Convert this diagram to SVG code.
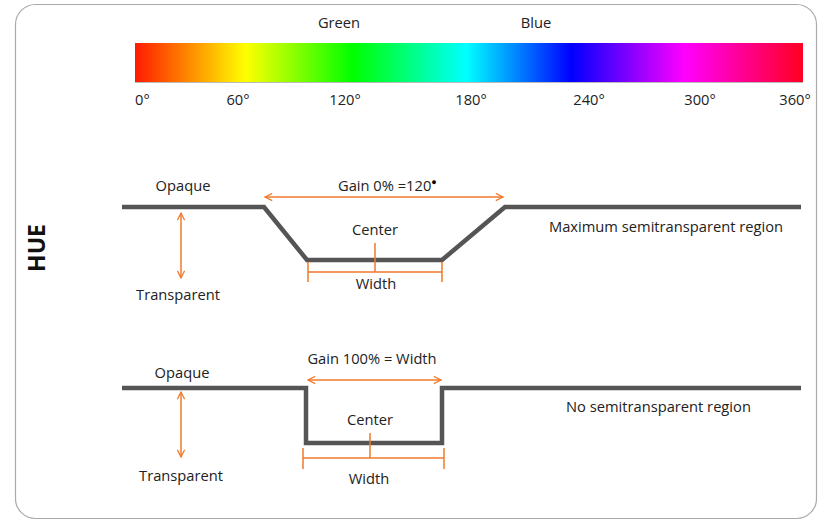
<svg xmlns="http://www.w3.org/2000/svg" width="826" height="523" viewBox="0 0 826 523">
<defs>
<linearGradient id="hue" x1="0" y1="0" x2="1" y2="0">
<stop offset="0" stop-color="#ff1a00"/>
<stop offset="0.165" stop-color="#ffff00"/>
<stop offset="0.326" stop-color="#00ff00"/>
<stop offset="0.496" stop-color="#00ffff"/>
<stop offset="0.653" stop-color="#0000ff"/>
<stop offset="0.822" stop-color="#ff00ff"/>
<stop offset="1" stop-color="#ff0022"/>
</linearGradient>
<marker id="ah" viewBox="0 0 10 10" refX="9" refY="5" markerWidth="9" markerHeight="9" markerUnits="userSpaceOnUse" orient="auto-start-reverse">
<path d="M1,1 L9,5 L1,9" fill="none" stroke="#f07a2c" stroke-width="1.4"/>
</marker>
<style>
text{font-family:"Open Sans","Noto Sans",sans-serif;font-size:14.7px;fill:#222}
.mid{text-anchor:middle}
.curve{fill:none;stroke:#555;stroke-width:4.5;stroke-linejoin:miter}
.or{fill:none;stroke:#f07a2c;stroke-width:1.5}
.arr{fill:none;stroke:#f07a2c;stroke-width:1.5;marker-start:url(#ah);marker-end:url(#ah)}
</style>
</defs>
<rect x="15.5" y="4.5" width="801" height="514" rx="20" fill="#fff" stroke="#aaa" stroke-width="1.2"/>
<g id="spectrum">
<text class="mid" x="339" y="28">Green</text>
<text class="mid" x="536" y="28">Blue</text>
<rect x="135" y="43" width="668" height="39" fill="url(#hue)"/>
<line x1="135" y1="82.5" x2="803" y2="82.5" stroke="#bbb" stroke-width="1"/>
<text x="135" y="105">0°</text>
<text class="mid" x="238" y="105">60°</text>
<text class="mid" x="345" y="105">120°</text>
<text class="mid" x="471" y="105">180°</text>
<text class="mid" x="589" y="105">240°</text>
<text class="mid" x="700" y="105">300°</text>
<text class="mid" x="795" y="105">360°</text>
</g>
<text x="55" y="258" class="mid" transform="rotate(-90 45 258)" style="font-size:23px;font-weight:bold;fill:#111">HUE</text>
<g id="max-region">
<path class="curve" d="M122,207 H264 L307,260 H442 L505,207 H801"/>
<text class="mid" x="183" y="191">Opaque</text>
<text class="mid" x="178" y="300">Transparent</text>
<text class="mid" x="375" y="235">Center</text>
<text class="mid" x="376" y="289">Width</text>
<text x="338" y="191">Gain 0% =120<tspan dy="-6" style="font-size:9px;fill:#000">●</tspan></text>
<text x="549" y="232">Maximum semitransparent region</text>
</g>
<g id="no-region">
<path class="curve" d="M122,388 H306 V443 H442 V388 H801"/>
<text class="mid" x="182" y="378">Opaque</text>
<text class="mid" x="181" y="481">Transparent</text>
<text class="mid" x="370" y="425">Center</text>
<text class="mid" x="369" y="484">Width</text>
<text class="mid" x="372" y="364">Gain 100% = Width</text>
<text x="566" y="412">No semitransparent region</text>
</g>
<g id="connectors">
<line class="arr" x1="181" y1="213" x2="181" y2="278"/>
<line class="arr" x1="265" y1="197" x2="503" y2="197"/>
<path class="or" d="M375,243 V272 M308,262 V282 M442,262 V282 M308,272 H442"/>
<line class="arr" x1="181" y1="392" x2="181" y2="457"/>
<line class="arr" x1="308" y1="380" x2="441" y2="380"/>
<path class="or" d="M370,433 V458 M303,448 V469 M444,448 V469 M303,458 H444"/>
</g>
</svg>
